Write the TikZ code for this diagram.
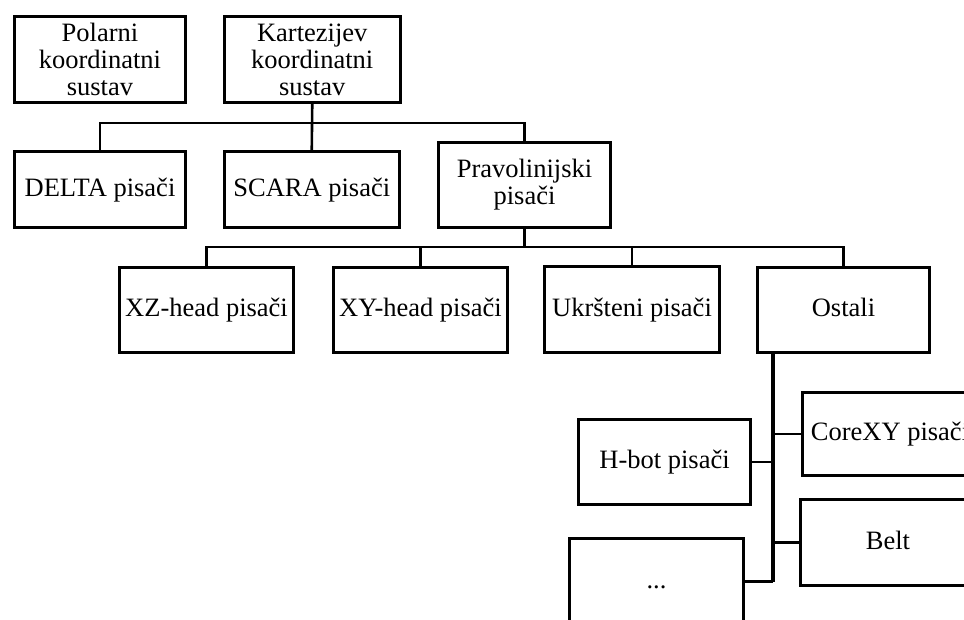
\documentclass[tikz,border=0pt]{standalone}
\usepackage{fontspec}
\setmainfont{Liberation Serif}
\begin{document}
\begin{tikzpicture}[x=1pt,y=-1pt,
  box/.style={draw=black,line width=3pt,fill=white,inner sep=0pt,align=center,
    minimum width=#1,minimum height=86pt,
    font=\fontsize{26.5}{27}\selectfont},
  box/.default=172pt,
  oneline/.style={text height=19pt,text depth=6pt},
  conn/.style={draw=black,line width=2.6pt},
  trunk/.style={draw=black,line width=3.6pt}]
\useasboundingbox (0,0) rectangle (964,619);
\clip (0,0) rectangle (964,619);
% level 0
\node[box=171pt] (polar) at (100,59.5) {Polarni\\koordinatni\\sustav};
\node[box=175.5pt] (kart) at (312.25,59.5) {Kartezijev\\koordinatni\\sustav};
% level 1
\node[box=171pt,minimum height=76pt,oneline] (delta) at (100,189.5) {DELTA pisači};
\node[box=174.5pt,minimum height=76pt,oneline] (scara) at (311.75,189.5) {SCARA pisači};
\node[box=172pt,minimum height=85pt] (prav) at (524.5,185) {Pravolinijski\\pisači};
% level 2
\node[box=174pt,minimum height=85pt,oneline] (xz) at (206.5,310) {XZ-head pisači};
\node[box=174pt,minimum height=85pt,oneline] (xy) at (420.5,310) {XY-head pisači};
\node[box=175pt,minimum height=86pt,oneline] (ukr) at (632,309.5) {Ukršteni pisači};
\node[box=172pt,minimum height=85pt,oneline] (ost) at (843.5,310) {Ostali};
% level 3
\node[box=172pt,minimum height=85pt,oneline] (hbot) at (664.5,462) {H-bot pisači};
\node[box=175pt,minimum height=83pt,oneline] (corexy) at (890,434) {CoreXY pisači};
\node[box=175pt,minimum height=86pt,oneline] (belt) at (888,542.5) {Belt};
\node[box=174pt,minimum height=86pt,oneline] (dots) at (656.5,581.5) {...};
% buses
\coordinate (bus1) at (0,123);
\coordinate (bus2) at (0,247);
\coordinate (tx) at (773,0);
% connectors level 0 -> 1
\draw[conn] (kart.south) -- (scara.north);
\draw[conn] (delta.north) |- (bus1 -| prav.north) -- (prav.north);
% connectors level 1 -> 2
\draw[conn] (prav.south) -- (prav.south |- bus2);
\draw[conn] (xz.north) |- (bus2 -| ost.north) -- (ost.north);
\draw[conn] (xy.north) -- (xy.north |- bus2);
\draw[conn] (ukr.north) -- (ukr.north |- bus2);
% trunk from Ostali
\draw[trunk] (ost.south -| tx) -- (dots.east -| tx);
\draw[conn] (dots.east) -- (dots.east -| tx);
\draw[conn] (hbot.east) -- (hbot.east -| tx);
\draw[conn] (corexy.west) -- (corexy.west -| tx);
\draw[conn] (belt.west) -- (belt.west -| tx);
\end{tikzpicture}
\end{document}
